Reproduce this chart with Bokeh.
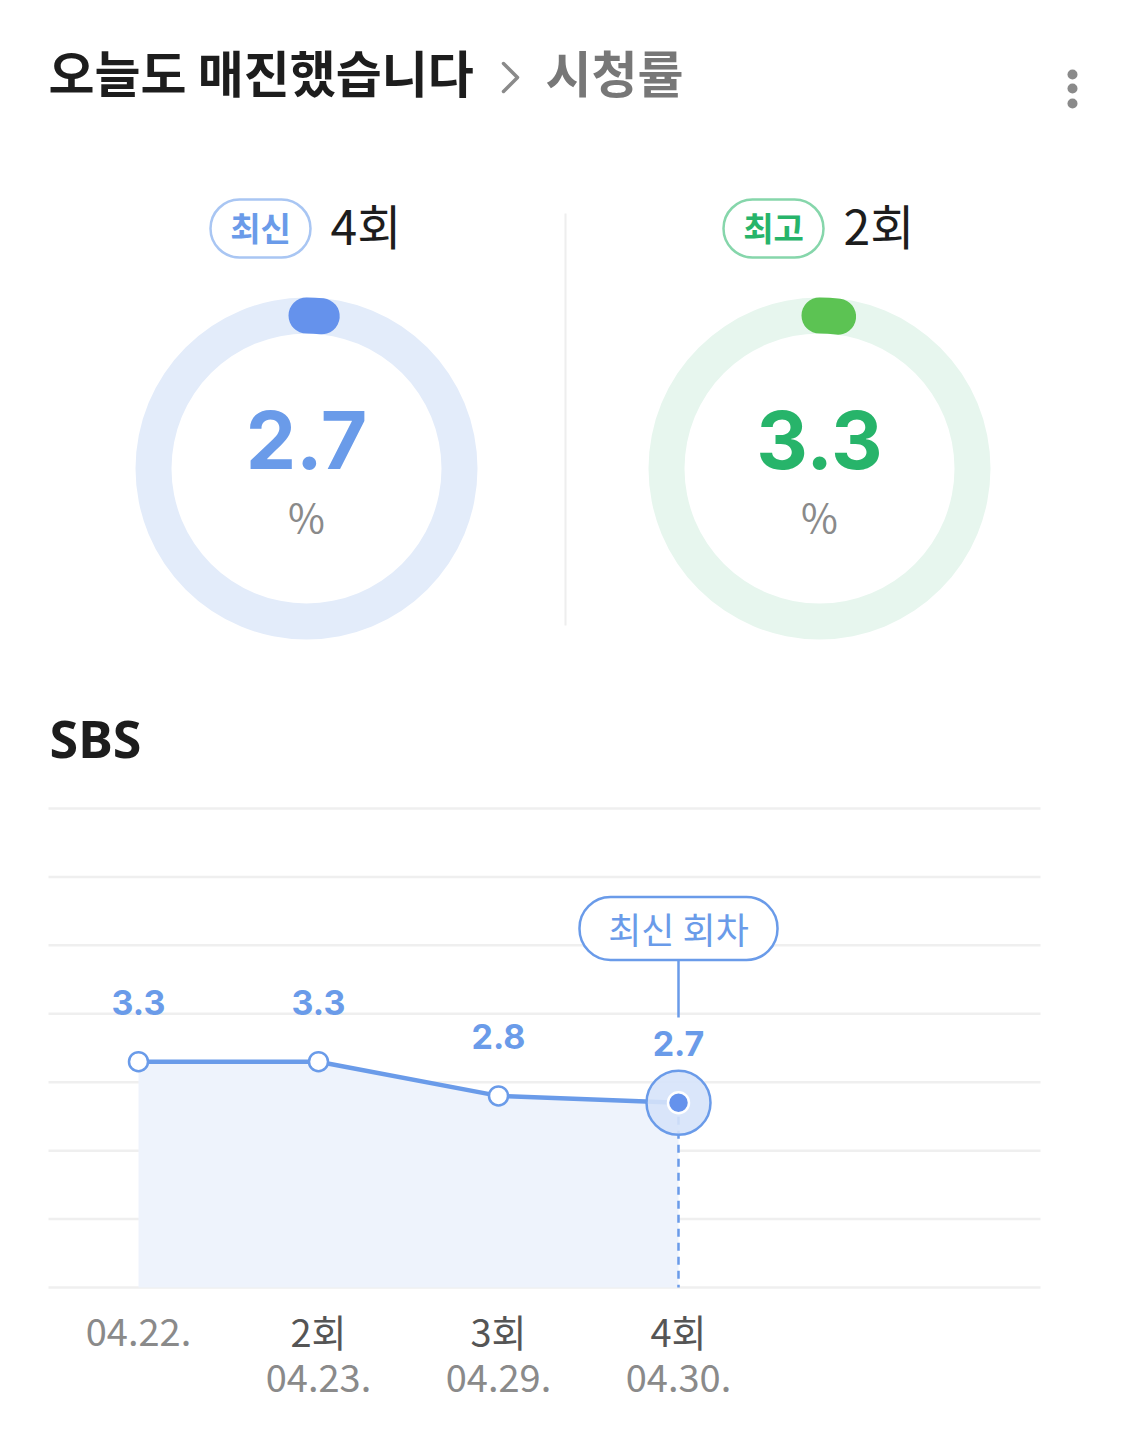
import math
from bokeh.plotting import figure
from bokeh.models import Range1d
from bokeh.core.properties import value
from bokeh.embed import file_html
from bokeh.resources import INLINE

# ---------------- data ----------------
program_title = "오늘도 매진했습니다"
section_title = "시청률"
latest_badge = "최신"
best_badge = "최고"
latest_episode = "4회"
best_episode = "2회"
latest_rating = 2.7
best_rating = 3.3
gauge_scale = 170.0          # rating value that would close the ring
channel = "SBS"
callout_text = "최신 회차"

episodes = ["", "2회", "3회", "4회"]
dates = ["04.22.", "04.23.", "04.29.", "04.30."]
ratings = [3.3, 3.3, 2.8, 2.7]
grid_values = [0, 1, 2, 3, 4, 5, 6, 7]

# ---------------- colours / fonts ----------------
BLUE = "#6a9be9"
BLUE_DARK = "#6592ec"
BLUE_RING = "#e3ecfa"
BLUE_BORDER = "#a9c6f3"
GREEN = "#27b46a"
GREEN_DOT = "#5cc353"
GREEN_RING = "#e7f6ee"
GREEN_BORDER = "#86d6ab"
KR = value("Noto Sans CJK KR")
NUM = value("Inter")

W, H = 1109, 1420
OFF = 0

p = figure(width=W, height=H, output_backend="svg", toolbar_location=None,
           x_range=Range1d(OFF, OFF + W), y_range=Range1d(OFF + H, OFF),
           x_axis_location=None, y_axis_location=None, min_border=0)
p.grid.visible = False
p.outline_line_color = None
p.background_fill_color = "white"
p.border_fill_color = "white"

# chart area scales (extra ranges)
BASE_Y, TOP_Y = 1287.0, 808.0
k = (BASE_Y - TOP_Y) / (len(grid_values) - 1)
p.extra_y_ranges = {"rate": Range1d((BASE_Y - (OFF + H)) / k, (BASE_Y - OFF) / k)}
X0, DX = 138.0, 180.0
p.extra_x_ranges = {"idx": Range1d((OFF - X0) / DX, (OFF + W - X0) / DX)}

# ---------------- header ----------------
p.text(x=[48], y=[70], text=[program_title], text_font=KR, text_font_size="50px",
       text_font_style="bold", text_color="#1d1d1d", text_align="left", text_baseline="middle")
p.line(x=[503, 517, 503], y=[63, 77, 91], line_color="#8a8a8a", line_width=3.5,
       line_join="round", line_cap="round")
p.text(x=[545], y=[70], text=[section_title], text_font=KR, text_font_size="50px",
       text_font_style="bold", text_color="#777777", text_align="left", text_baseline="middle")
p.scatter(x=[1072, 1072, 1072], y=[74, 88, 103], size=10, fill_color="#8a8a8a", line_color=None)

# ---------------- gauges ----------------
gauges = [
    dict(cx=306, badge=latest_badge, ep=latest_episode, val=latest_rating,
         col=BLUE, dot=BLUE_DARK, ring=BLUE_RING, border=BLUE_BORDER),
    dict(cx=819, badge=best_badge, ep=best_episode, val=best_rating,
         col=GREEN, dot=GREEN_DOT, ring=GREEN_RING, border=GREEN_BORDER),
]
for g in gauges:
    cx, cy = g["cx"], 468
    bx = cx - 46
    p.rect(x=[bx], y=[228], width=100, height=58, border_radius=29,
           fill_color="white", line_color=g["border"], line_width=2.5)
    p.text(x=[bx], y=[226], text=[g["badge"]], text_font=KR, text_font_size="33px",
           text_font_style="bold", text_color=g["col"], text_align="center", text_baseline="middle")
    p.text(x=[cx + 24], y=[223], text=[g["ep"]], text_font=KR, text_font_size="48px",
           text_color="#1d1d1d", text_align="left", text_baseline="middle")
    p.annulus(x=[cx], y=[cy], inner_radius=135, outer_radius=171,
              fill_color=g["ring"], line_color=None)
    ang = g["val"] / gauge_scale * 2 * math.pi
    p.arc(x=[cx], y=[cy], radius=153, start_angle=math.pi / 2, end_angle=math.pi / 2 - ang,
          direction="clock", line_color=g["dot"], line_width=36, line_cap="round")
    p.text(x=[cx], y=[439], text=[f"{g['val']:.1f}"], text_font=NUM, text_font_size="80px",
           text_font_style="bold", text_color=g["col"], text_align="center", text_baseline="middle")
    p.text(x=[cx], y=[515], text=["%"], text_font=KR, text_font_size="40px",
           text_color="#8a8a8a", text_align="center", text_baseline="middle")

p.segment(x0=[565], y0=[213], x1=[565], y1=[625], line_color="#eeeeee", line_width=2)

# ---------------- line chart ----------------
p.text(x=[49], y=[737], text=[channel], text_font=value("Noto Sans"), text_font_size="52px",
       text_font_style="bold", text_color="#1d1d1d", text_align="left", text_baseline="middle")

idx = list(range(len(ratings)))
last = idx[-1]

p.segment(x0=[48] * len(grid_values), x1=[1040] * len(grid_values),
          y0=grid_values, y1=grid_values, y_range_name="rate",
          line_color="#efefef", line_width=2.5)
p.varea(x=idx, y1=[0] * len(idx), y2=ratings, x_range_name="idx", y_range_name="rate",
        fill_color="#eef3fc")
p.segment(x0=[last], x1=[last], y0=[ratings[-1]], y1=[0], x_range_name="idx",
          y_range_name="rate", line_color=BLUE, line_width=2.5, line_dash="8 6")

# callout
p.segment(x0=[last], x1=[last], y0=[960], y1=[1017], x_range_name="idx",
          line_color=BLUE, line_width=2.5)
p.rect(x=[last], y=[928], width=198, height=63, width_units="screen", height_units="screen",
       x_range_name="idx", border_radius=31, fill_color="white", line_color=BLUE, line_width=2.5)
p.text(x=[last], y=[927], text=[callout_text], x_range_name="idx", text_font=KR,
       text_font_size="36px", text_color=BLUE, text_align="center", text_baseline="middle")

p.line(x=idx, y=ratings, x_range_name="idx", y_range_name="rate",
       line_color=BLUE, line_width=4.5)
p.scatter(x=idx[:-1], y=ratings[:-1], x_range_name="idx", y_range_name="rate",
          size=19, fill_color="white", line_color=BLUE, line_width=2.5)
p.scatter(x=[last], y=[ratings[-1]], x_range_name="idx", y_range_name="rate",
          size=64, fill_color="#d6e3f9", fill_alpha=0.9, line_color=BLUE, line_width=2.5)
p.scatter(x=[last], y=[ratings[-1]], x_range_name="idx", y_range_name="rate",
          size=21, fill_color=BLUE_DARK, line_color="white", line_width=2.5)

p.text(x=idx, y=ratings, text=[f"{r:.1f}" for r in ratings], x_range_name="idx",
       y_range_name="rate", y_offset=-59, text_font=NUM, text_font_size="34px",
       text_font_style="bold", text_color=BLUE, text_align="center", text_baseline="middle")

# x labels
ep_x = [i for i, e in zip(idx, episodes) if e]
ep_t = [e for e in episodes if e]
p.text(x=ep_x, y=[1330] * len(ep_x), text=ep_t, x_range_name="idx", text_font=KR,
       text_font_size="38px", text_color="#555555", text_align="center", text_baseline="middle")
date_y = [1377 if e else 1331 for e in episodes]
p.text(x=idx, y=date_y, text=dates, x_range_name="idx", text_font=KR,
       text_font_size="38px", text_color="#8a8a8a", text_align="center", text_baseline="middle")

open("out.html", "w").write(file_html(p, INLINE))
